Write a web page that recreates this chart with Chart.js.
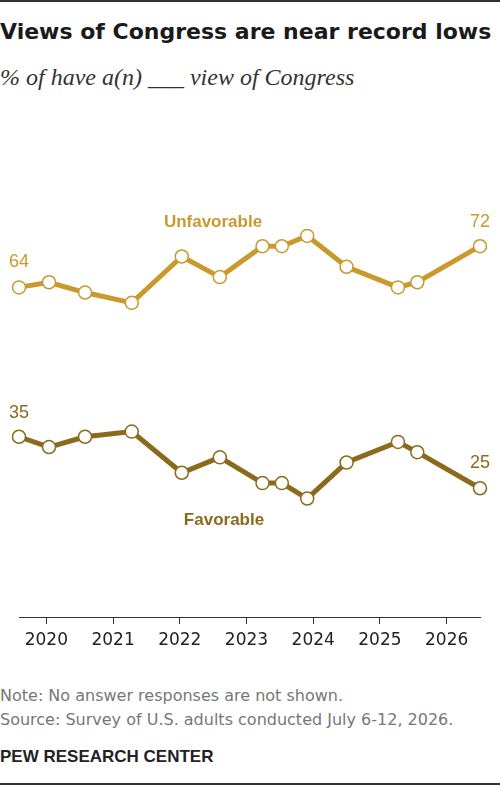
<!DOCTYPE html>
<html>
<head>
<meta charset="utf-8">
<script src="https://cdn.jsdelivr.net/npm/chart.js@4.4.1/dist/chart.umd.min.js"></script>
<style>
  body { margin: 0; background: #fff; }
  #page { position: relative; width: 500px; height: 785px; overflow: hidden; font-family: "Liberation Sans", Arial, sans-serif; }
  .rule { position: absolute; left: 0; width: 500px; height: 2px; background: #333; }
  #title { position: absolute; left: 0; top: 19px; font-family: "DejaVu Sans", sans-serif; font-weight: bold; font-size: 22px; color: #1a1a1a; white-space: nowrap; }
  #subtitle { position: absolute; left: 0; top: 64px; font-family: "Liberation Serif", serif; font-style: italic; font-size: 24px; color: #333; white-space: nowrap; }
  #chartBox { position: absolute; left: 0; top: 90px; width: 500px; height: 570px; }
  .note { position: absolute; left: 0; font-family: "DejaVu Sans", sans-serif; font-size: 16px; color: #777; white-space: nowrap; }
  #pew { position: absolute; left: 0; top: 747px; font-size: 17px; font-weight: bold; color: #222; white-space: nowrap; }
</style>
</head>
<body>
<div id="page">
  <div class="rule" style="top:0"></div>
  <div id="title">Views of Congress are near record lows</div>
  <div id="subtitle">% of have a(n) ___ view of Congress</div>
  <div id="chartBox"><canvas id="chart" width="500" height="570"></canvas></div>
  <div class="note" style="top:686px">Note: No answer responses are not shown.</div>
  <div class="note" style="top:710px">Source: Survey of U.S. adults conducted July 6-12, 2026.</div>
  <div id="pew">PEW RESEARCH CENTER</div>
  <div class="rule" style="top:783px"></div>
</div>
<script>
// survey dates as decimal years
let surveyDates = [2019.59, 2020.04, 2020.58, 2021.28, 2022.03, 2022.6, 2023.24, 2023.53, 2023.91, 2024.5, 2025.27, 2025.56, 2026.5];
let unfavorable = [64, 65, 63, 61, 70, 66, 72, 72, 74, 68, 64, 65, 72];
let favorable = [35, 33, 35, 36, 28, 31, 26, 26, 23, 30, 34, 32, 25];
let tickYears = [2020, 2021, 2022, 2023, 2024, 2025, 2026];

let gold = '#C9992B';
let brown = '#8C6A1C';

function toPoints(vals) {
  let pts = [];
  for(i = 0; i < vals.length; i++) {
    pts.push({x: surveyDates[i], y: vals[i]});
  }
  return pts;
}

// end values and series names drawn on the chart
let labelPlugin = {
  id: 'seriesLabels',
  afterDatasetsDraw(chart) {
    let ctx = chart.ctx;
    let xs = chart.scales.x;
    let ys = chart.scales.y;
    let last = surveyDates.length - 1;
    ctx.save();
    ctx.textAlign = 'center';
    ctx.textBaseline = 'alphabetic';
    ctx.font = '18px "Liberation Sans", Arial, sans-serif';
    ctx.fillStyle = gold;
    ctx.fillText(unfavorable[0], xs.getPixelForValue(surveyDates[0]), ys.getPixelForValue(unfavorable[0]) - 20);
    ctx.fillText(unfavorable[last], xs.getPixelForValue(surveyDates[last]), ys.getPixelForValue(unfavorable[last]) - 19);
    ctx.fillStyle = brown;
    ctx.fillText(favorable[0], xs.getPixelForValue(surveyDates[0]), ys.getPixelForValue(favorable[0]) - 19);
    ctx.fillText(favorable[last], xs.getPixelForValue(surveyDates[last]), ys.getPixelForValue(favorable[last]) - 20);
    ctx.font = 'bold 17px "Liberation Sans", Arial, sans-serif';
    ctx.fillStyle = gold;
    ctx.fillText('Unfavorable', 213, 137);
    ctx.fillStyle = brown;
    ctx.fillText('Favorable', 224, 435);
    ctx.restore();
  }
};

new Chart(document.getElementById('chart'), {
  type: 'line',
  data: {
    datasets: [{
      label: 'Unfavorable',
      data: toPoints(unfavorable),
      borderColor: gold,
      borderWidth: 5,
      pointRadius: 6.5,
      pointBorderWidth: 1.5,
      pointBackgroundColor: '#fff',
      pointBorderColor: gold,
      tension: 0,
      clip: false
    }, {
      label: 'Favorable',
      data: toPoints(favorable),
      borderColor: brown,
      borderWidth: 5,
      pointRadius: 6.5,
      pointBorderWidth: 1.5,
      pointBackgroundColor: '#fff',
      pointBorderColor: brown,
      tension: 0,
      clip: false
    }]
  },
  options: {
    responsive: false,
    animation: false,
    layout: { padding: { top: 12, left: 19, right: 20, bottom: 0 } },
    plugins: { legend: { display: false }, tooltip: { enabled: false } },
    scales: {
      x: {
        type: 'linear',
        min: 2019.59,
        max: 2026.5,
        afterBuildTicks: function(s) { s.ticks = tickYears.map(v => ({value: v})); },
        afterFit: function(s) { s.height = 43; },
        grid: { drawOnChartArea: false, drawTicks: true, tickLength: 7, color: '#333', lineWidth: 1 },
        border: { display: true, color: '#333', width: 1 },
        ticks: { padding: 6, color: '#222', font: { size: 17, family: '"DejaVu Sans", sans-serif' }, callback: v => String(v), maxRotation: 0, autoSkip: false }
      },
      y: {
        display: false,
        min: 0,
        max: 100
      }
    }
  },
  plugins: [labelPlugin]
});
</script>
</body>
</html>
